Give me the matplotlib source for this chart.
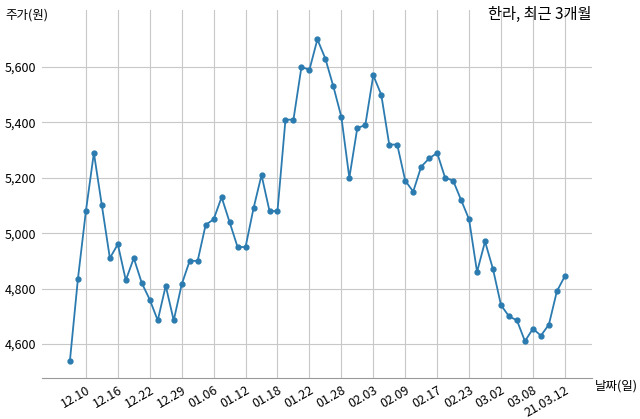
import matplotlib
matplotlib.use("Agg")
import matplotlib.pyplot as plt

plt.rcParams['font.family'] = ['Noto Sans CJK KR', 'DejaVu Sans']

prices = [4540, 4835, 5080, 5290, 5100, 4910, 4960, 4830, 4910, 4820, 4760, 4685, 4810, 4685,
          4815, 4900, 4900, 5030, 5050, 5130, 5040, 4950, 4950, 5090, 5210, 5080, 5080, 5410,
          5410, 5600, 5590, 5700, 5630, 5530, 5420, 5200, 5380, 5390, 5570, 5500, 5320, 5320,
          5190, 5150, 5240, 5270, 5290, 5200, 5190, 5120, 5050, 4860, 4970, 4870, 4740, 4700,
          4685, 4610, 4655, 4630, 4670, 4790, 4845]
tick_labels = ['12.10', '12.16', '12.22', '12.29', '01.06', '01.12', '01.18', '01.22', '01.28',
               '02.03', '02.09', '02.17', '02.23', '03.02', '03.08', '21.03.12']
yticks = [4600, 4800, 5000, 5200, 5400, 5600]

fig = plt.figure(figsize=(6.4, 4.19), dpi=100)
ax = fig.add_axes([42/640, 1-378/419, 550/640, 368/419])
x = list(range(len(prices)))
ax.plot(x, prices, color='#2b7bb0', lw=1.3, marker='o', ms=3.5)
ax.set_xlim(-3.5, 65.4)
ax.set_ylim(4477, 5806)
tick_pos = list(range(2, len(prices), 4))
ax.set_xticks(tick_pos)
ax.set_xticklabels(tick_labels, rotation=30, ha='right', rotation_mode='anchor', fontsize=9)
ax.set_yticks(yticks)
ax.set_yticklabels([f'{v:,}' for v in yticks], fontsize=9)
ax.grid(True, color='#c8c8c8', lw=0.8)
ax.set_axisbelow(True)
for s in ['top', 'right', 'left']:
    ax.spines[s].set_visible(False)
ax.spines['bottom'].set_color('#999999')
ax.tick_params(length=0, pad=4)
fig.text(5/640, 1-15/419, '주가(원)', fontsize=9, va='center', ha='left')
fig.text(592/640, 1-14/419, '한라, 최근 3개월', fontsize=11, va='center', ha='right')
fig.text(595/640, 1-386/419, '날짜(일)', fontsize=9, va='center', ha='left')
fig.savefig('out.png', dpi=100)
